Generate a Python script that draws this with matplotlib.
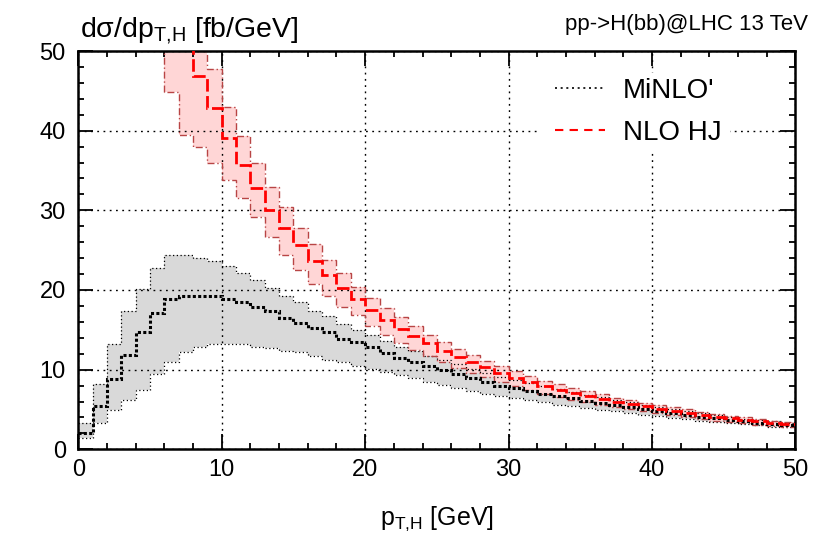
import numpy as np
import matplotlib
matplotlib.use("Agg")
import matplotlib.pyplot as plt
from matplotlib.ticker import MultipleLocator
from matplotlib.lines import Line2D
from matplotlib.patches import Rectangle

# ---------------- data (1 GeV bins) ----------------
minlo_edges = list(range(0, 51))
minlo_central = [2.0, 5.45, 8.8, 11.9, 14.7, 17.1, 18.9, 19.2, 19.3, 19.2,
                 18.85, 18.45, 17.9, 17.3, 16.5, 15.9, 15.2, 14.7, 13.9, 13.45,
                 12.8, 12.1, 11.5, 10.9, 10.4, 10.0, 9.45, 8.9, 8.4, 8.0,
                 7.7, 7.3, 7.0, 6.75, 6.4, 6.1, 5.85, 5.55, 5.3, 5.0,
                 4.75, 4.5, 4.3, 4.1, 3.9, 3.7, 3.5, 3.35, 3.2, 3.05]
minlo_upper = [3.25, 8.25, 13.25, 17.4, 20.1, 22.7, 24.4, 24.4, 24.0, 23.6,
               23.0, 22.1, 21.2, 20.25, 19.3, 18.45, 17.4, 16.7, 15.7, 15.0,
               14.3, 13.6, 12.9, 12.3, 11.7, 11.2, 10.7, 10.1, 9.6, 9.1,
               8.7, 8.3, 7.9, 7.6, 7.2, 6.85, 6.55, 6.2, 5.9, 5.6,
               5.3, 5.0, 4.8, 4.55, 4.3, 4.1, 3.85, 3.7, 3.5, 3.35]
minlo_lower = [1.4, 3.25, 4.9, 6.2, 7.5, 9.4, 11.0, 12.2, 12.8, 13.2,
               13.2, 13.2, 12.8, 12.75, 12.4, 12.2, 11.7, 11.25, 10.95, 10.5,
               10.1, 9.7, 9.3, 9.0, 8.5, 8.1, 7.75, 7.3, 6.9, 6.7,
               6.4, 6.15, 5.95, 5.6, 5.4, 5.15, 4.95, 4.75, 4.55, 4.35,
               4.15, 3.95, 3.75, 3.6, 3.45, 3.3, 3.15, 3.0, 2.85, 2.75]

nlo_edges = list(range(6, 51))
nlo_central = [56.0, 50.5, 46.9, 42.8, 39.1, 35.75, 32.8, 30.1, 27.75, 25.7,
               23.7, 21.9, 20.2, 18.9,
               17.5, 16.25, 15.1, 14.2, 13.3, 12.4, 11.6, 10.9, 10.3, 9.6,
               9.0, 8.5, 7.9, 7.5, 7.1, 6.7, 6.35, 6.0, 5.7, 5.4,
               5.1, 4.85, 4.6, 4.35, 4.1, 3.9, 3.7, 3.5, 3.35, 3.2]
nlo_upper = [60.0, 57.0, 53.0, 47.7, 43.0, 39.3, 35.95, 32.95, 30.4, 27.8,
             25.8, 23.8, 22.1, 20.4,
             19.0, 17.7, 16.6, 15.5, 14.4, 13.5, 12.6, 11.8, 11.1, 10.4,
             9.8, 9.2, 8.6, 8.2, 7.7, 7.3, 6.9, 6.5, 6.2, 5.85,
             5.5, 5.25, 5.0, 4.7, 4.45, 4.2, 4.0, 3.8, 3.6, 3.45]
nlo_lower = [44.8, 39.5, 38.0, 35.95, 33.75, 31.6, 29.1, 26.7, 24.4, 22.5,
             20.8, 19.3, 17.9, 16.8,
             15.45, 14.3, 13.3, 12.5, 11.7, 10.9, 10.2, 9.6, 9.05, 8.45,
             7.9, 7.5, 6.95, 6.6, 6.25, 5.9, 5.6, 5.3, 5.0, 4.75,
             4.5, 4.3, 4.05, 3.85, 3.6, 3.45, 3.25, 3.1, 2.95, 2.8]

labels = ["MiNLO'", "NLO HJ"]
title = "pp->H(bb)@LHC 13 TeV"
ylabel = "dσ/dp$_{\\mathrm{T{,}H}}$ [fb/GeV]"
xlabel = "p$_{\\mathrm{T{,}H}}$ [GeV]"

# ---------------- style ----------------
plt.rcParams['font.family'] = ['Liberation Sans', 'DejaVu Sans']
plt.rcParams['mathtext.fontset'] = 'custom'
plt.rcParams['mathtext.rm'] = 'Liberation Sans'
plt.rcParams['mathtext.it'] = 'Liberation Sans:italic'

grey_fill = '#d9d9d9'
pink_fill = '#ffd6d6'
red_edge = '#b84545'

fig = plt.figure(figsize=(8.28, 5.39), dpi=100)
W, H = 828, 539
x0, x1, y0, y1 = 78.3, 795.5, 51.0, 449.3
ax = fig.add_axes([x0 / W, 1 - y1 / H, (x1 - x0) / W, (y1 - y0) / H])

def ax_frac_x(px):
    return (px - x0) / (x1 - x0)

def ax_frac_y(py):
    return 1 - (py - y0) / (y1 - y0)

# bands
ax.stairs(minlo_upper, minlo_edges, baseline=minlo_lower, fill=True,
          color=grey_fill, linewidth=0, zorder=1)
ax.stairs(nlo_upper, nlo_edges, baseline=nlo_lower, fill=True,
          color=pink_fill, linewidth=0, zorder=1.1)

# band edges
ax.stairs(minlo_upper, minlo_edges, baseline=None, color='black',
          linewidth=0.9, linestyle=(0, (1, 2)), zorder=2)
ax.stairs(minlo_lower, minlo_edges, baseline=None, color='black',
          linewidth=0.9, linestyle=(0, (1, 2)), zorder=2)
ax.stairs(nlo_upper, nlo_edges, baseline=nlo_lower, fill=False,
          edgecolor=red_edge, linewidth=1.0, linestyle=(0, (5, 2, 1, 2)), zorder=2.1)

# central lines
ax.stairs(minlo_central, minlo_edges, baseline=None, color='black',
          linewidth=2.2, linestyle=(0, (1, 0.75)), zorder=3)
ax.stairs(nlo_central, nlo_edges, baseline=None, color='#ff0000',
          linewidth=2.0, linestyle=(0, (4.5, 1.6)), zorder=3.1)

# axes
ax.set_xlim(0, 50)
ax.set_ylim(0, 50)
ax.xaxis.set_major_locator(MultipleLocator(10))
ax.xaxis.set_minor_locator(MultipleLocator(2))
ax.yaxis.set_major_locator(MultipleLocator(10))
ax.yaxis.set_minor_locator(MultipleLocator(2))
ax.tick_params(which='both', direction='in', top=True, right=True,
               width=1.3, colors='black')
ax.tick_params(which='major', length=10.5, labelsize=17)
ax.tick_params(which='minor', length=4.3)
ax.tick_params(axis='x', which='major', pad=7)
ax.tick_params(axis='y', which='major', pad=9)
for s in ax.spines.values():
    s.set_linewidth(1.8)
ax.grid(True, which='major', color='black', linewidth=1.0,
        linestyle=(0, (1.3, 3.2)))

# legend with opaque white key area
key_bg = Rectangle((ax_frac_x(540), ax_frac_y(150)),
                   ax_frac_x(730) - ax_frac_x(540), ax_frac_y(73) - ax_frac_y(150),
                   transform=ax.transAxes, facecolor='white', edgecolor='none',
                   zorder=4)
ax.add_patch(key_bg)
handles = [Line2D([], [], color='black', linewidth=1.2, linestyle=(0, (1.2, 2.2))),
           Line2D([], [], color='#ff0000', linewidth=1.5, linestyle=(0, (4, 3)))]
leg = ax.legend(handles, labels, loc='upper left',
                bbox_to_anchor=(ax_frac_x(555), ax_frac_y(78)),
                frameon=False, fontsize=20, handlelength=1.8, handletextpad=0.65,
                labelspacing=0.58, borderpad=0, borderaxespad=0)
leg.set_zorder(5)

# texts
fig.text(808 / W, 1 - 30 / H, title, ha='right', va='baseline', fontsize=16)
fig.text(80 / W, 1 - 37 / H, ylabel, ha='left', va='baseline', fontsize=20.5)
fig.text(437 / W, 1 - 525 / H, xlabel, ha='center', va='baseline', fontsize=18)

fig.savefig('out.png', dpi=100)
